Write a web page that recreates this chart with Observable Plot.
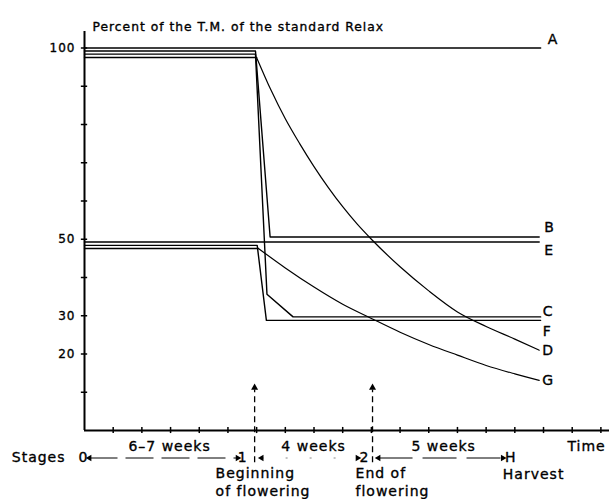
<!DOCTYPE html>
<html><head><meta charset="utf-8">
<script src="https://cdn.jsdelivr.net/npm/d3@7"></script>
<script src="https://cdn.jsdelivr.net/npm/@observablehq/plot@0.6"></script>
<style>body{margin:0;background:#fff}</style>
</head><body><div id="chart"></div>
<script>
// ---------- data ----------
const titleText = "Percent of the T.M. of the standard Relax";
const yTickValues = [10, 20, 30, 40, 50, 60, 70, 80, 90, 100];
const yLabelValues = [100, 50, 30, 20];
const xTickWeeks = [1, 2, 3, 4, 5, 6, 7, 8, 9, 10, 11, 12, 13, 14, 15, 16, 17, 18];

// straight-segment series (weeks, percent)
const A_t = [0, 15.9],                   A_v = [100, 100];
const B_t = [0, 5.96, 6.47, 15.85],      B_v = [99.2, 99.2, 50.6, 50.6];
const C_t = [0, 5.96, 6.36, 7.27, 15.9], C_v = [98.4, 98.4, 35.6, 29.7, 29.7];
const D_t = [0, 6.0],                    D_v = [97.5, 97.5];
const E_t = [0, 15.85],                  E_v = [49.3, 49.3];
const F_t = [0, 6.02, 6.34, 15.9],       F_v = [48.4, 48.4, 28.8, 28.8];
const G_t = [0, 6.06],                   G_v = [47.6, 47.6];
// curved decays
const Dcurve_t = [6.0, 6.5, 7, 7.5, 8, 8.5, 9, 9.5, 10, 11, 12, 13, 14, 15, 15.85];
const Dcurve_v = [97.5, 89, 81.5, 75, 69, 63.5, 58.5, 54, 50, 42.8, 36.5, 31, 27.2, 23.9, 21];
const Gcurve_t = [6.06, 7, 8, 9, 10, 11, 12, 13, 14, 15, 15.85];
const Gcurve_v = [47.6, 42.5, 37.5, 33, 29.3, 25.7, 22.5, 19.7, 17, 14.8, 13.1];

const stageTimes = [0, 5.93, 10.04, 15];
const stageNames = ["0", "1", "2", "H"];
const periodLabels = ["6\u20137 weeks", "4 weeks", "5 weeks"];
const stageCaptions = ["", "Beginning\nof flowering", "End of\nflowering", "Harvest"];

// ---------- build tables ----------
const straight = [];
[["A", A_t, A_v], ["B", B_t, B_v], ["C", C_t, C_v], ["D", D_t, D_v],
 ["E", E_t, E_v], ["F", F_t, F_v], ["G", G_t, G_v]].forEach(([k, t, v]) =>
  t.forEach((ti, i) => straight.push({series: k, t: ti, v: v[i]})));
const curved = [];
[["D", Dcurve_t, Dcurve_v], ["G", Gcurve_t, Gcurve_v]].forEach(([k, t, v]) =>
  t.forEach((ti, i) => curved.push({series: k, t: ti, v: v[i]})));

const endOf = k => {
  const pts = [...straight, ...curved].filter(d => d.series === k);
  return pts.reduce((a, b) => (b.t > a.t ? b : a));
};
const labelStyle = {A: [7, -8], B: [5, -9], E: [5, 9], C: [2, -5], F: [2, 11], D: [3, 0], G: [3, 0]};
const endLabels = Object.keys(labelStyle).map(k => ({...endOf(k), series: k}));

const periods = periodLabels.map((p, i) => ({label: p, t: (stageTimes[i] + stageTimes[i + 1]) / 2}));
const stages = stageNames.map((s, i) => ({name: s, t: stageTimes[i], caption: stageCaptions[i]}));

const pxW = 525 / 18.3; // px per week (for annotation insets)
const w = px => px / pxW;

const arrowSegs = [
  {x1: stageTimes[0] + w(5), x2: stageTimes[1] - w(17), dash: "28,8", stroke: "#000"},
  {x1: stageTimes[1] + w(7), x2: stageTimes[2] - w(15), dash: "2,22", stroke: "#888"},
  {x1: stageTimes[2] + w(6), x2: stageTimes[3] - w(12), dash: "34,10", stroke: "#000"}
];
const heads = [
  {t: arrowSegs[0].x1, rot: -90}, {t: arrowSegs[0].x2, rot: 90},
  {t: arrowSegs[1].x1, rot: -90}, {t: arrowSegs[1].x2, rot: 90},
  {t: arrowSegs[2].x1, rot: -90}, {t: arrowSegs[2].x2, rot: 90}
];
const stageLabelDx = {"0": -1, "1": -12, "2": -8, "H": -4};
const captionDx = {"1": -39, "2": -17, "H": -12};
const captionDy = {"1": 51, "2": 51, "H": 43};

const font = "DejaVu Sans";
const ink = {fill: "black", stroke: "black", strokeWidth: 0.35};

const chart = Plot.plot({
  width: 609, height: 499,
  marginLeft: 84, marginRight: 0, marginTop: 47.5, marginBottom: 69,
  x: {domain: [0, 18.3], axis: null},
  y: {domain: [0, 100], axis: null},
  style: {fontFamily: font, fontSize: "14px", background: "white", color: "black", overflow: "visible", letterSpacing: "1px"},
  marks: [
    // axes
    Plot.ruleX([0], {y1: 0, y2: 104.3, stroke: "black", strokeWidth: 2}),
    Plot.ruleY([0], {x1: 0, x2: 18.3, stroke: "black", strokeWidth: 2}),
    Plot.ruleY(yTickValues, {x1: -0.11, x2: 0.11, stroke: "black", strokeWidth: 1.5}),
    Plot.ruleX(xTickWeeks, {y1: -0.8, y2: 0.8, stroke: "black", strokeWidth: 1.5}),
    Plot.text(yLabelValues, {x: 0, y: d => d, text: d => String(d), dx: -9, textAnchor: "end", fontSize: 12, ...ink}),
    Plot.text([titleText], {frameAnchor: "top-left", dx: 8, dy: -26, textAnchor: "start", fontSize: 12.3, ...ink}),
    // series
    Plot.line(straight, {x: "t", y: "v", z: "series", stroke: "black", strokeWidth: 1.4}),
    Plot.line(curved, {x: "t", y: "v", z: "series", stroke: "black", strokeWidth: 1.2, curve: "monotone-x"}),
    ...endLabels.map(d => Plot.text([d], {x: "t", y: "v", text: "series", textAnchor: "start",
      dx: labelStyle[d.series][0], dy: labelStyle[d.series][1], fontSize: 14, ...ink})),
    // dashed stage markers
    Plot.ruleX(stageTimes.slice(1, 3), {y1: -8.4, y2: 10.6, stroke: "black", strokeWidth: 1.3, strokeDasharray: "6,4"}),
    Plot.dot(stageTimes.slice(1, 3), {x: d => d, y: 11.2, symbol: "triangle", r: 2.6, fill: "black", stroke: null}),
    // period labels
    Plot.text(periods, {x: "t", y: 0, text: "label", dy: 16, fontSize: 14, ...ink}),
    Plot.text(["Time"], {x: 17.5, y: 0, text: d => d, dy: 16, fontSize: 14, ...ink}),
    // stages row
    Plot.text(["Stages"], {x: 0, y: 0, text: d => d, dx: -19, dy: 27, textAnchor: "end", fontSize: 14, ...ink}),
    ...stages.map(d => Plot.text([d], {x: "t", y: 0, text: "name", dx: stageLabelDx[d.name], dy: 27, fontSize: 14, ...ink})),
    ...arrowSegs.map(s => Plot.link([s], {x1: "x1", x2: "x2", y1: 0, y2: 0, dy: 27.5, stroke: s.stroke, strokeWidth: 1, strokeDasharray: s.dash})),
    Plot.dot(heads, {x: "t", y: 0, dy: 27.5, symbol: "triangle", rotate: "rot", r: 2.4, fill: "black", stroke: null}),
    ...stages.filter(d => d.caption).map(d => Plot.text([d], {x: "t", y: 0, text: "caption", dx: captionDx[d.name], dy: captionDy[d.name],
      textAnchor: "start", lineAnchor: "middle", lineHeight: 1.28, fontSize: 14, ...ink}))
  ]
});
document.getElementById("chart").append(chart);
</script>
</body></html>
